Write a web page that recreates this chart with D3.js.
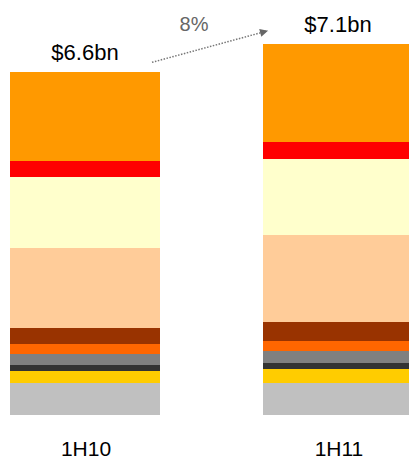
<!DOCTYPE html>
<html lang="en">
<head>
    <meta charset="UTF-8">
    <title>Stacked revenue 1H10 vs 1H11</title>
    <script src="https://cdnjs.cloudflare.com/ajax/libs/d3/7.8.5/d3.min.js"></script>
    <style>
        body { margin: 0; padding: 0; background: #ffffff; font-family: Arial, "Liberation Sans", sans-serif; }
        svg { display: block; }
    </style>
</head>
<body>
    <div id="chart"></div>
    <script>
        // periods and totals shown above each bar
        const periods = ["1H10", "1H11"];
        const totalLabels = ["$6.6bn", "$7.1bn"];
        const growthLabel = "8%";

        // segments, bottom to top (US$ bn)
        const segments = ["s1", "s2", "s3", "s4", "s5", "s6", "s7", "s8", "s9", "s10"];
        const colors = ["#c0c0c0", "#ffcc00", "#333333", "#808080", "#ff6600",
                        "#993300", "#ffcc99", "#ffffcc", "#ff0000", "#ff9900"];
        const values1H10 = [0.60, 0.23, 0.13, 0.21, 0.19, 0.31, 1.54, 1.35, 0.31, 1.71];
        const values1H11 = [0.60, 0.27, 0.13, 0.23, 0.19, 0.35, 1.69, 1.46, 0.33, 1.87];

        const width = 409, height = 459;

        const table = periods.map((p, i) => {
            const vals = i === 0 ? values1H10 : values1H11;
            const row = {period: p};
            segments.forEach((s, j) => row[s] = vals[j]);
            return row;
        });

        const x = d3.scaleBand()
            .domain(periods)
            .range([10, 413])
            .paddingInner(0.407)
            .paddingOuter(0);

        const y = d3.scaleLinear()
            .domain([0, 7.5])
            .range([414.5, 414.5 - 7.5 * 52]);

        const color = d3.scaleOrdinal(segments, colors);

        const series = d3.stack().keys(segments)(table);

        const svg = d3.select("#chart")
            .append("svg")
            .attr("width", width)
            .attr("height", height)
            .attr("viewBox", [0, 0, width, height]);

        svg.append("g")
            .selectAll("g")
            .data(series)
            .join("g")
            .attr("fill", d => color(d.key))
            .selectAll("rect")
            .data(d => d)
            .join("rect")
            .attr("x", d => x(d.data.period))
            .attr("y", d => y(d[1]))
            .attr("height", d => y(d[0]) - y(d[1]))
            .attr("width", x.bandwidth())
            .attr("shape-rendering", "crispEdges");

        const totals = table.map(r => d3.sum(segments, s => r[s]));

        // total labels
        svg.append("g")
            .selectAll("text")
            .data(periods)
            .join("text")
            .attr("x", p => x(p) + x.bandwidth() / 2)
            .attr("y", (p, i) => y(totals[i]) - 12)
            .attr("text-anchor", "middle")
            .attr("font-size", "22px")
            .attr("fill", "#000")
            .text((p, i) => totalLabels[i]);

        // category labels
        svg.append("g")
            .selectAll("text")
            .data(periods)
            .join("text")
            .attr("x", p => x(p) + x.bandwidth() / 2 + 1)
            .attr("y", 456)
            .attr("text-anchor", "middle")
            .attr("font-size", "21px")
            .attr("fill", "#000")
            .text(p => p);

        // growth arrow
        svg.append("defs").append("marker")
            .attr("id", "arrow")
            .attr("viewBox", "0 0 10 10")
            .attr("refX", 10)
            .attr("refY", 5)
            .attr("markerWidth", 9)
            .attr("markerHeight", 8)
            .attr("markerUnits", "userSpaceOnUse")
            .attr("orient", "auto")
            .append("path")
            .attr("d", "M0,0L10,5L0,10Z")
            .attr("fill", "#666");

        const x0 = x(periods[0]) + x.bandwidth() - 8;
        const y0 = y(totals[0]) - 10;
        const x1 = x(periods[1]) + 5;
        const y1 = y(totals[1]) - 13.5;

        svg.append("line")
            .attr("x1", x0).attr("y1", y0)
            .attr("x2", x1).attr("y2", y1)
            .attr("stroke", "#777")
            .attr("stroke-width", 1.5)
            .attr("stroke-dasharray", "1.5,1.5")
            .attr("marker-end", "url(#arrow)");

        svg.append("text")
            .attr("x", 194)
            .attr("y", 31)
            .attr("text-anchor", "middle")
            .attr("font-size", "20px")
            .attr("fill", "#666")
            .text(growthLabel);
    </script>
</body>
</html>
